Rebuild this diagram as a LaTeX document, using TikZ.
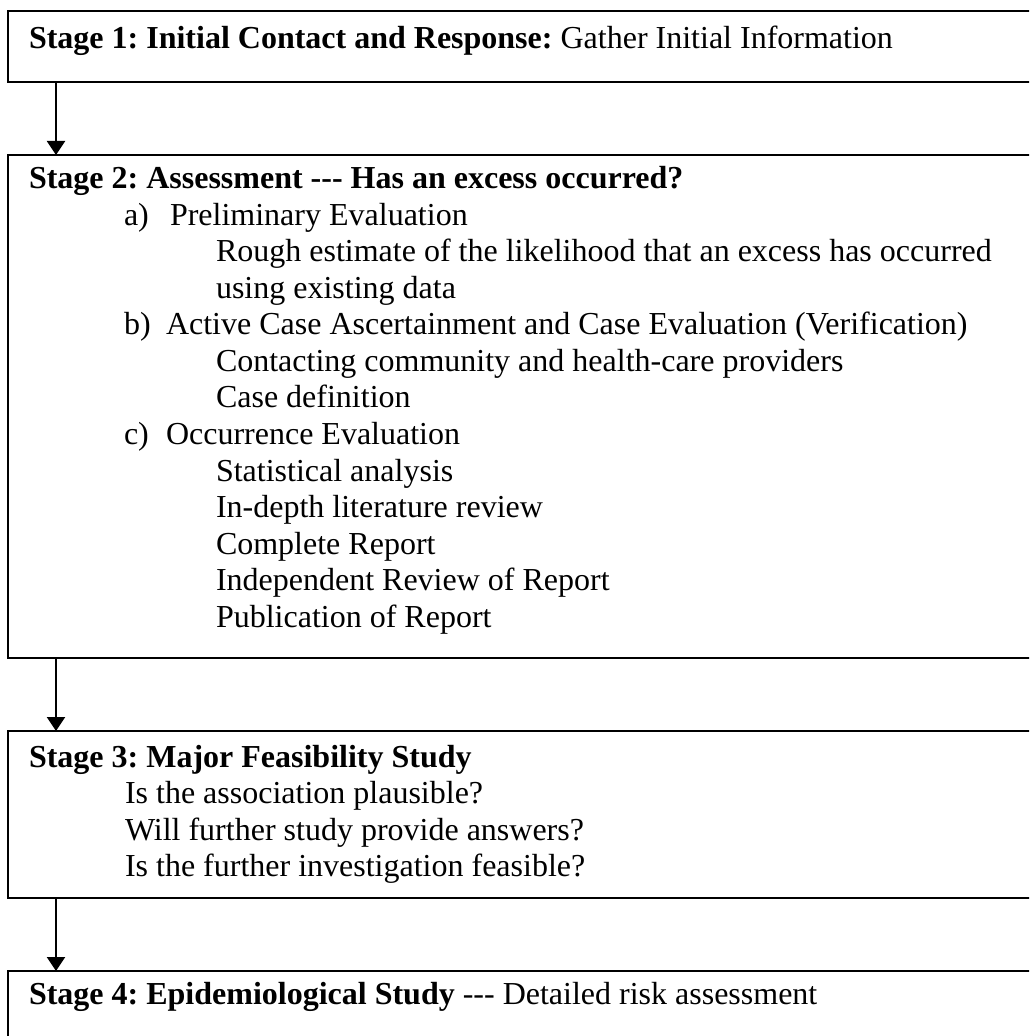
\documentclass[tikz,border=0pt]{standalone}
\usepackage{fontspec}
\newfontfamily\tnr{Liberation Serif}
\usetikzlibrary{arrows.meta}
\frenchspacing
\begin{document}
\begin{tikzpicture}[x=0.5pt,y=-0.5pt,
  stagebox/.style={draw, line width=1pt, inner sep=0pt, outer sep=0pt, anchor=north west, minimum width=516pt},
  txt/.style={anchor=base west, inner sep=0pt, outer sep=0pt, font=\tnr\fontsize{16}{18}\selectfont},
  arr/.style={-{Triangle[width=9pt,length=7pt]}, line width=1pt}]
\useasboundingbox (0,0) rectangle (1029,1036);
\clip (0,0) rectangle (1029,1036);
% boxes
\node[stagebox, minimum height=35.5pt] (s1) at (8,11) {};
\node[stagebox, minimum height=251.5pt] (s2) at (8,155) {};
\node[stagebox, minimum height=83.5pt] (s3) at (8,731) {};
\node[stagebox, minimum height=40pt] (s4) at (8,971) {};
% arrows
\coordinate (ax) at (56,0);
\draw[arr] (s1.south -| ax) -- (s2.north -| ax);
\draw[arr] (s2.south -| ax) -- (s3.north -| ax);
\draw[arr] (s3.south -| ax) -- (s4.north -| ax);
% stage 1
\node[txt] (t1) at (29,49) {\textbf{Stage 1: Initial Contact and Response:} Gather Initial Information};
% stage 2
\node[txt] (t2) at (29,189) {\textbf{Stage 2: Assessment -{}-{}- Has an excess occurred?}};
\node[txt] (la) at (124,225.5) {a)};
\node[txt] (ta) at (170,225.5) {Preliminary Evaluation};
\node[txt] (ta1) at (216,262) {Rough estimate of the likelihood that an excess has occurred};
\node[txt] (ta2) at (216,298.5) {using existing data};
\node[txt] (lb) at (124,335) {b)};
\node[txt] (tb) at (166,335) {Active Case Ascertainment and Case Evaluation (Verification)};
\node[txt] (tb1) at (216,371.5) {Contacting community and health-care providers};
\node[txt] (tb2) at (216,408) {Case definition};
\node[txt] (lc) at (124,444.5) {c)};
\node[txt] (tc) at (166,444.5) {Occurrence Evaluation};
\node[txt] (tc1) at (216,481) {Statistical analysis};
\node[txt] (tc2) at (216,517.5) {In-depth literature review};
\node[txt] (tc3) at (216,554) {Complete Report};
\node[txt] (tc4) at (216,590.5) {Independent Review of Report};
\node[txt] (tc5) at (216,627) {Publication of Report};
% stage 3
\node[txt] (t3) at (29,767) {\textbf{Stage 3: Major Feasibility Study}};
\node[txt] (t31) at (125,803.5) {Is the association plausible?};
\node[txt] (t32) at (125,840) {Will further study provide answers?};
\node[txt] (t33) at (125,876.5) {Is the further investigation feasible?};
% stage 4
\node[txt] (t4) at (29,1004) {\textbf{Stage 4: Epidemiological Study} -{}-{}- Detailed risk assessment};
\end{tikzpicture}
\end{document}
